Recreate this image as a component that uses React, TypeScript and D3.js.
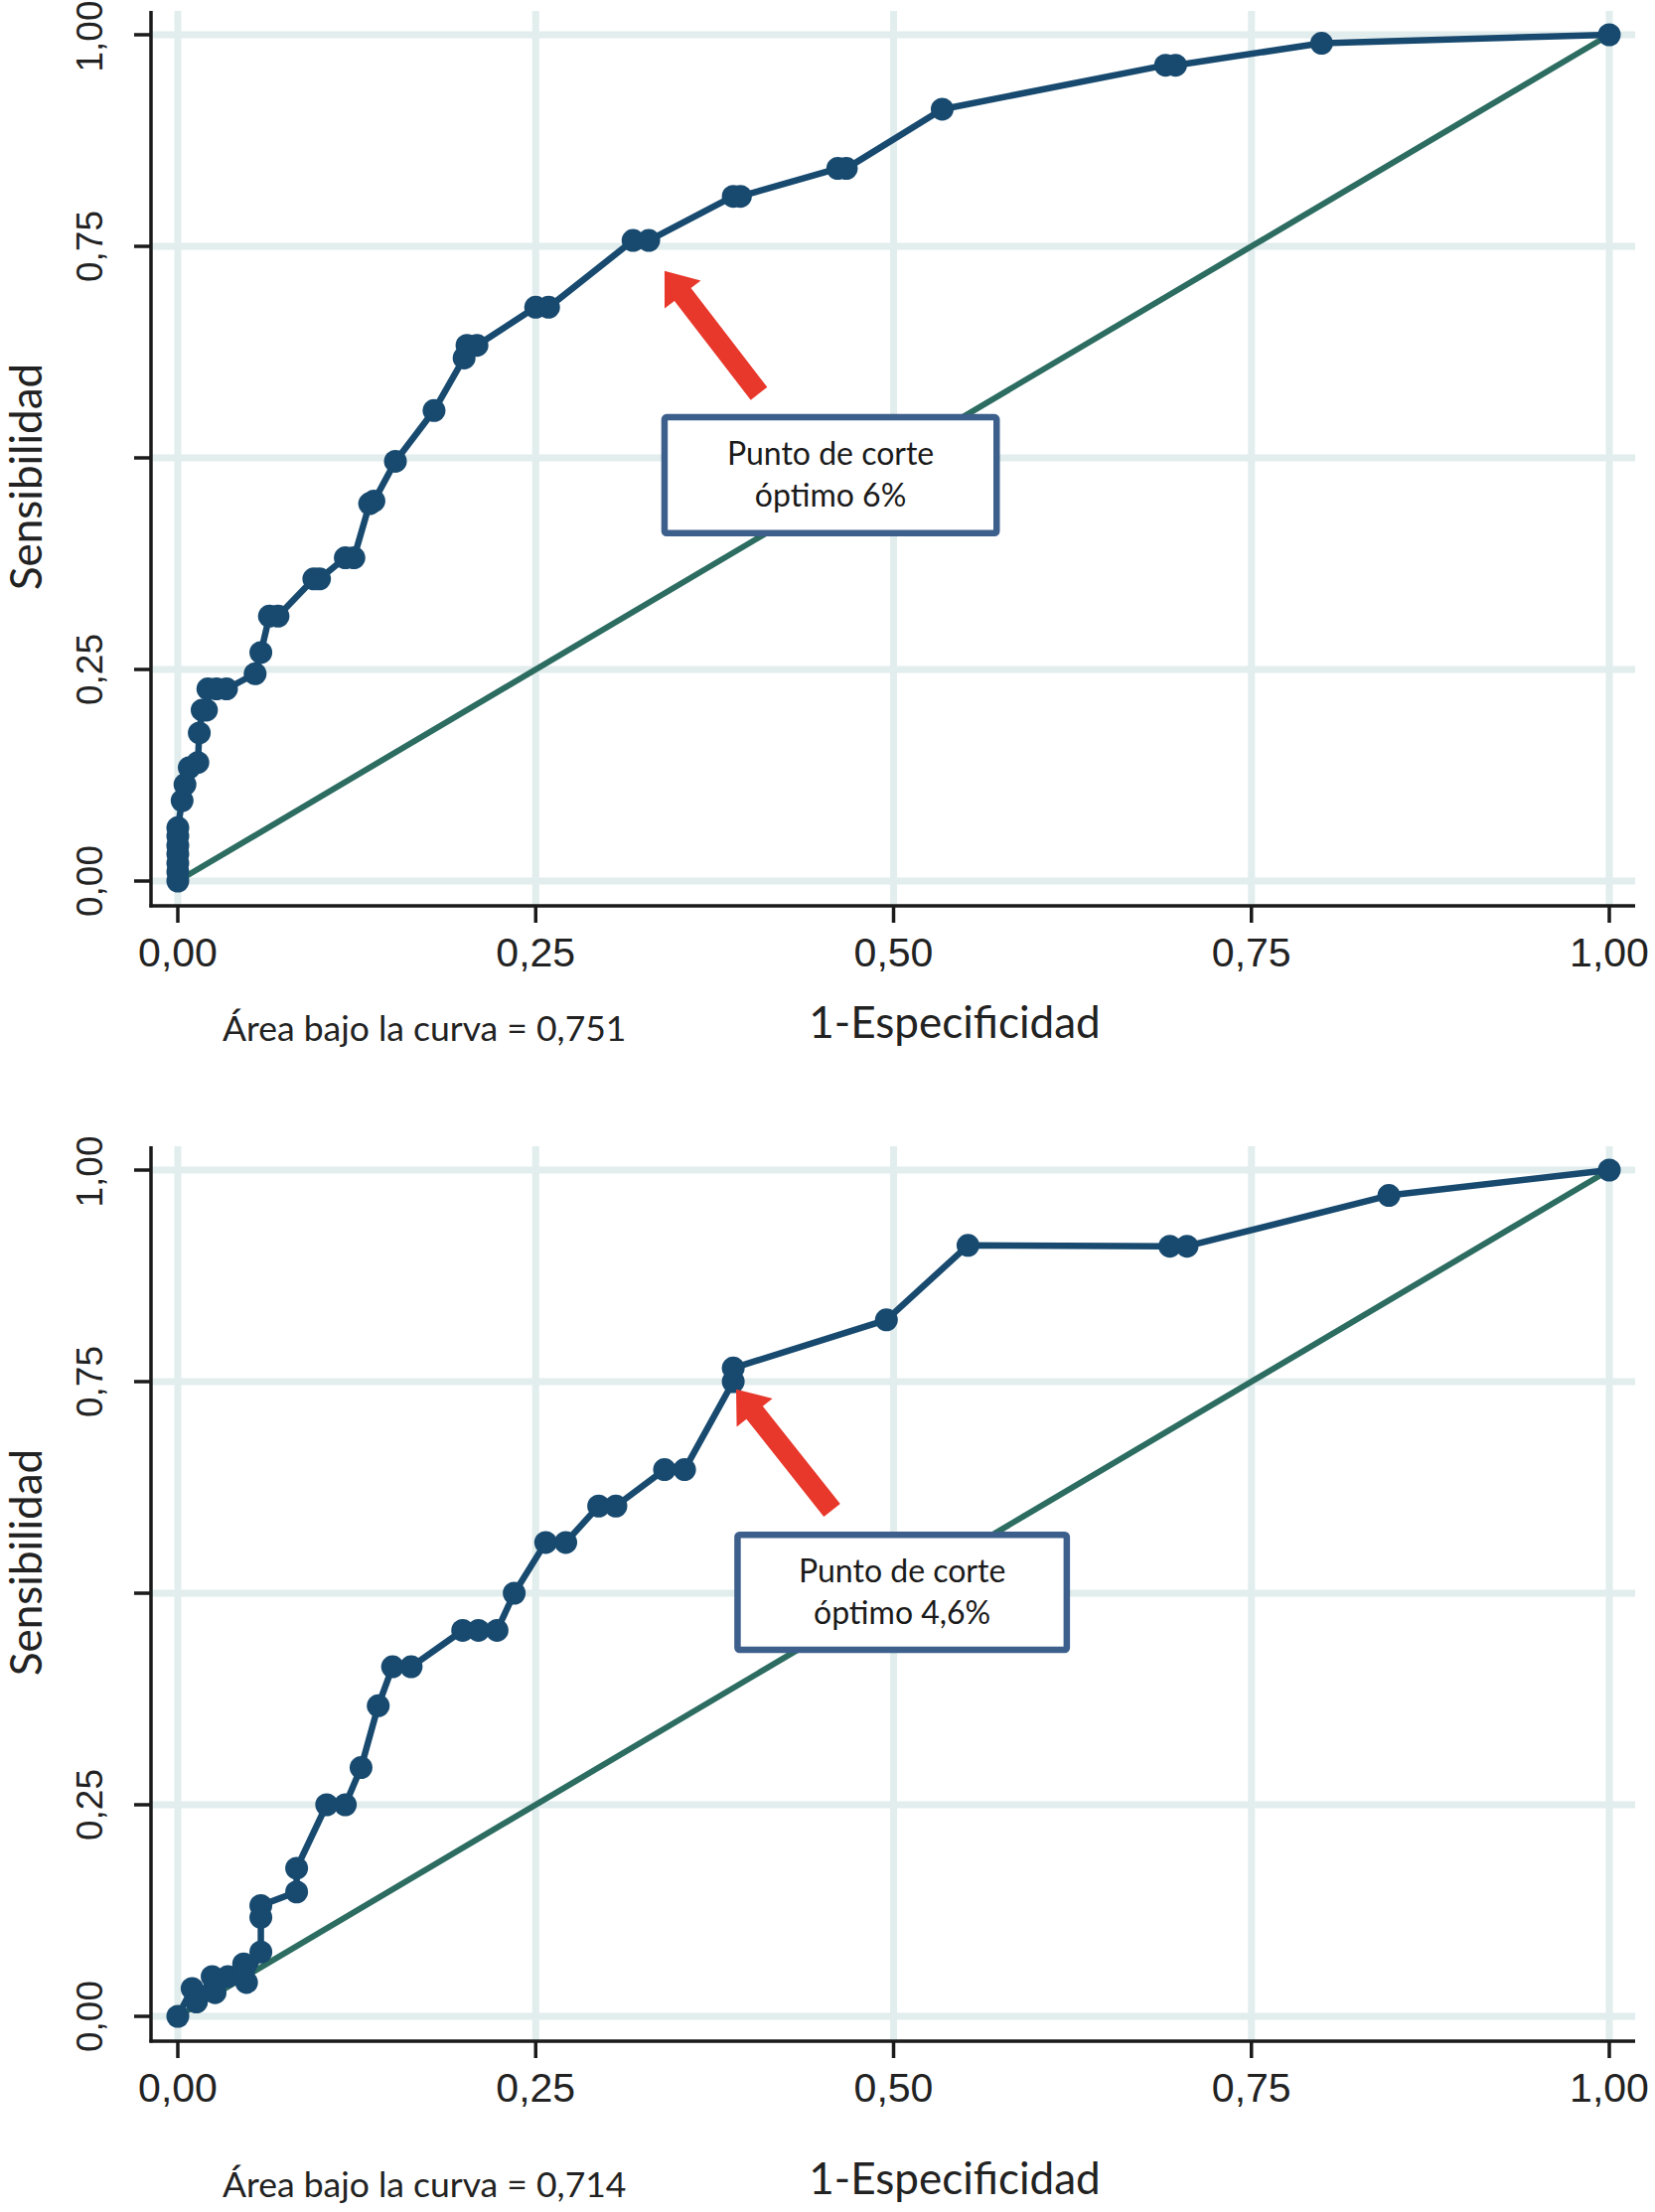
import React, { useRef, useEffect } from 'react';
import * as d3 from 'd3';

// ROC points (1-especificidad, sensibilidad)
const fprTop = [0, 0, 0, 0, 0, 0, 0, 0.003, 0.005, 0.008, 0.014, 0.015, 0.017, 0.02, 0.021, 0.027, 0.034, 0.054, 0.058, 0.064, 0.07, 0.095, 0.099, 0.117, 0.123, 0.134, 0.137, 0.152, 0.179, 0.2, 0.202, 0.209, 0.25, 0.259, 0.318, 0.329, 0.388, 0.393, 0.461, 0.467, 0.534, 0.69, 0.697, 0.799, 1];
const tprTop = [0, 0.011, 0.021, 0.032, 0.042, 0.053, 0.063, 0.095, 0.114, 0.134, 0.14, 0.175, 0.202, 0.202, 0.227, 0.227, 0.227, 0.245, 0.27, 0.313, 0.313, 0.357, 0.357, 0.382, 0.382, 0.446, 0.449, 0.496, 0.556, 0.618, 0.633, 0.633, 0.678, 0.678, 0.757, 0.757, 0.809, 0.809, 0.842, 0.842, 0.912, 0.964, 0.964, 0.99, 1];

const fprBottom = [0, 0.01, 0.013, 0.024, 0.026, 0.035, 0.046, 0.048, 0.058, 0.058, 0.058, 0.083, 0.083, 0.104, 0.117, 0.128, 0.14, 0.15, 0.163, 0.199, 0.21, 0.223, 0.235, 0.257, 0.271, 0.294, 0.306, 0.34, 0.354, 0.388, 0.388, 0.495, 0.552, 0.693, 0.705, 0.846, 1];
const tprBottom = [0, 0.033, 0.017, 0.047, 0.028, 0.047, 0.062, 0.04, 0.076, 0.117, 0.131, 0.147, 0.175, 0.25, 0.25, 0.294, 0.367, 0.413, 0.413, 0.456, 0.456, 0.456, 0.5, 0.56, 0.56, 0.603, 0.603, 0.646, 0.646, 0.75, 0.766, 0.823, 0.911, 0.91, 0.91, 0.97, 1];

const ticks = [0, 0.25, 0.5, 0.75, 1];
const xTickLabels = ['0,00', '0,25', '0,50', '0,75', '1,00'];
// the 0,50 label is not printed on the vertical axis
const yTickLabels = ['0,00', '0,25', '', '0,75', '1,00'];

const aucLabels = ['Área bajo la curva = 0,751', 'Área bajo la curva = 0,714'];
const cutLabels = ['óptimo 6%', 'óptimo 4,6%'];

const NAVY = '#184a6f';
const TEAL = '#2c6c61';
const GRID = '#e2eded';
const RED = '#e8372b';
const BOX = '#3d5f8b';

type Panel = {
  fpr: number[];
  tpr: number[];
  top: number;
  auc: string;
  cut: string;
  yTitleY: number;
  textShift: number;
  tip: [number, number];
  tail: [number, number];
  box: [number, number, number, number];
};

const panels: Panel[] = [
  { fpr: fprTop, tpr: tprTop, top: 0, auc: aucLabels[0], cut: cutLabels[0], yTitleY: 480, textShift: 0,
    tip: [0.34, 0.721], tail: [0.406, 0.576], box: [0.34, 0.572, 0.548, 0.411] },
  { fpr: fprBottom, tpr: tprBottom, top: 1143, auc: aucLabels[1], cut: cutLabels[1], yTitleY: 430, textShift: 21,
    tip: [0.39, 0.741], tail: [0.457, 0.598], box: [0.391, 0.621, 0.569, 0.433] },
];

const TICK_FONT = '"Liberation Sans", Arial, sans-serif';
const TEXT_FONT = 'Lato, "Open Sans", sans-serif';

export default function App() {
  const svgRef = useRef<SVGSVGElement>(null);

  useEffect(() => {
    document.body.style.margin = '0';
    const svg = d3.select(svgRef.current);
    svg.selectAll('*').remove();

    svg.append('rect').attr('width', 1666).attr('height', 2227).attr('fill', 'white');

    panels.forEach((p) => {
      const g = svg.append('g').attr('transform', `translate(0,${p.top})`);
      const x = d3.scaleLinear().domain([0, 1]).range([179, 1620]);
      const y = d3.scaleLinear().domain([0, 1]).range([887, 35]);
      const axisX = 152;
      const axisY = 912;
      const right = 1646;
      const topEdge = 11;

      // Grid
      for (const t of ticks) {
        g.append('line').attr('x1', axisX).attr('x2', right).attr('y1', y(t)).attr('y2', y(t))
          .attr('stroke', GRID).attr('stroke-width', 7);
        g.append('line').attr('x1', x(t)).attr('x2', x(t)).attr('y1', topEdge).attr('y2', axisY)
          .attr('stroke', GRID).attr('stroke-width', 7);
      }

      // Axes
      g.append('line').attr('x1', axisX).attr('x2', axisX).attr('y1', topEdge).attr('y2', axisY + 1.5)
        .attr('stroke', '#1a1a1a').attr('stroke-width', 3.5);
      g.append('line').attr('x1', axisX - 1.5).attr('x2', right).attr('y1', axisY).attr('y2', axisY)
        .attr('stroke', '#1a1a1a').attr('stroke-width', 3.5);
      ticks.forEach((t, i) => {
        g.append('line').attr('x1', axisX - 17).attr('x2', axisX).attr('y1', y(t)).attr('y2', y(t))
          .attr('stroke', '#1a1a1a').attr('stroke-width', 3.5);
        g.append('line').attr('x1', x(t)).attr('x2', x(t)).attr('y1', axisY).attr('y2', axisY + 17)
          .attr('stroke', '#1a1a1a').attr('stroke-width', 3.5);

        g.append('text').attr('transform', `translate(${x(t)},973)`)
          .attr('text-anchor', 'middle').attr('font-family', TICK_FONT).attr('font-size', 41)
          .attr('fill', '#222').text(xTickLabels[i]);

        if (yTickLabels[i]) {
          g.append('text').attr('transform', `translate(103,${y(t) + (t === 1 ? 1.5 : 0)}) rotate(-90)`)
            .attr('text-anchor', 'middle').attr('font-family', TICK_FONT).attr('font-size', 37)
            .attr('fill', '#222').text(yTickLabels[i]);
        }
      });

      // Titles
      g.append('text').attr('transform', `translate(42,${p.yTitleY}) rotate(-90)`)
        .attr('text-anchor', 'middle').attr('font-family', TEXT_FONT).attr('font-size', 44)
        .attr('fill', '#222').text('Sensibilidad');
      g.append('text').attr('x', 961).attr('y', 1045 + p.textShift).attr('text-anchor', 'middle')
        .attr('font-family', TEXT_FONT).attr('font-size', 44).attr('fill', '#222').text('1-Especificidad');
      g.append('text').attr('x', 224).attr('y', 1048 + p.textShift)
        .attr('font-family', TEXT_FONT).attr('font-size', 35.5).attr('fill', '#222').text(p.auc);

      // Reference diagonal
      g.append('line').attr('x1', x(0)).attr('y1', y(0)).attr('x2', x(1)).attr('y2', y(1))
        .attr('stroke', TEAL).attr('stroke-width', 6);

      // ROC curve
      const pts = p.fpr.map((f, i) => [f, p.tpr[i]] as [number, number]);
      const line = d3.line<[number, number]>().x((d) => x(d[0])).y((d) => y(d[1]));
      g.append('path').datum(pts).attr('d', line).attr('fill', 'none')
        .attr('stroke', NAVY).attr('stroke-width', 6.5).attr('stroke-linejoin', 'round');
      g.selectAll('circle.pt').data(pts).join('circle').attr('class', 'pt')
        .attr('cx', (d) => x(d[0])).attr('cy', (d) => y(d[1])).attr('r', 11.5).attr('fill', NAVY);

      // Arrow
      const tx = x(p.tip[0]), ty = y(p.tip[1]);
      const sx = x(p.tail[0]), sy = y(p.tail[1]);
      const len = Math.hypot(tx - sx, ty - sy);
      const ux = (tx - sx) / len, uy = (ty - sy) / len;
      const nx = -uy, ny = ux;
      const headLen = 30, shaft = 10.5, head = 23;
      const bx = tx - ux * headLen, by = ty - uy * headLen;
      const arrow = [
        [sx + nx * shaft, sy + ny * shaft],
        [bx + nx * shaft, by + ny * shaft],
        [bx + nx * head, by + ny * head],
        [tx, ty],
        [bx - nx * head, by - ny * head],
        [bx - nx * shaft, by - ny * shaft],
        [sx - nx * shaft, sy - ny * shaft],
      ];
      g.append('polygon').attr('points', arrow.map((a) => a.join(',')).join(' ')).attr('fill', RED);

      // Annotation box
      const [bx0, bx1, by0, by1] = p.box;
      g.append('rect').attr('x', x(bx0)).attr('y', y(by0))
        .attr('width', x(bx1) - x(bx0)).attr('height', y(by1) - y(by0))
        .attr('fill', 'white').attr('stroke', BOX).attr('stroke-width', 6.5).attr('rx', 2);
      const cx = (x(bx0) + x(bx1)) / 2;
      g.append('text').attr('x', cx).attr('y', y(by0) + 48).attr('text-anchor', 'middle')
        .attr('font-family', TEXT_FONT).attr('font-size', 32).attr('fill', '#1a1a1a').text('Punto de corte');
      g.append('text').attr('x', cx).attr('y', y(by0) + 90).attr('text-anchor', 'middle')
        .attr('font-family', TEXT_FONT).attr('font-size', 32).attr('fill', '#1a1a1a').text(p.cut);
    });
  }, []);

  return <svg ref={svgRef} width={1666} height={2227} style={{ display: 'block' }} />;
}
